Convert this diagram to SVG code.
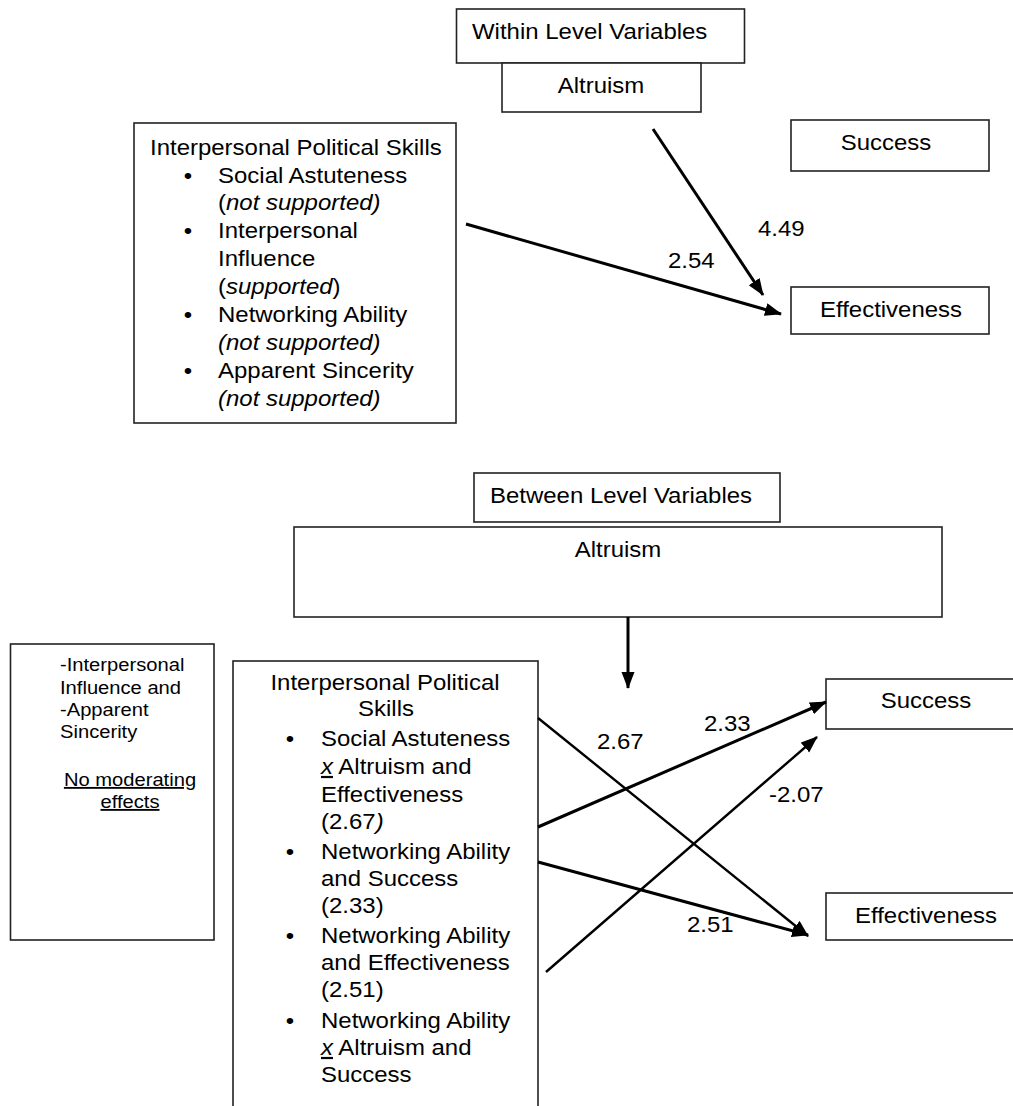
<svg xmlns="http://www.w3.org/2000/svg" width="1013" height="1106" viewBox="0 0 1013 1106">
<defs>
<style>
.bx{fill:#fff;stroke:#222;stroke-width:1.6}
.t{font-family:"Liberation Sans",Arial,sans-serif;font-size:22px;fill:#000}
.s{font-size:18.5px}
.m{text-anchor:middle}
.i{font-style:italic}
.u{text-decoration:underline}
.c{fill:none;stroke:#000;stroke-width:3;marker-end:url(#ah)}
.c2{fill:none;stroke:#000;stroke-width:2.4;marker-end:url(#ah)}
</style>
<marker id="ah" markerUnits="userSpaceOnUse" markerWidth="19" markerHeight="14" refX="16" refY="6.5" orient="auto">
<path d="M0,0 L17,6.5 L0,13 z" fill="#000"/>
</marker>
</defs>
<rect width="1013" height="1106" fill="#fff"/>

<g id="within-title">
<rect class="bx" x="456.5" y="9" width="288" height="54"/>
<text class="t" transform="matrix(1.09 0 0 1 472 39)">Within Level Variables</text>
</g>
<g id="altruism-top">
<rect class="bx" x="502" y="63" width="199" height="49"/>
<text class="t m" transform="matrix(1.09 0 0 1 601 93)">Altruism</text>
</g>
<g id="success-top">
<rect class="bx" x="791" y="120" width="198" height="51"/>
<text class="t m" transform="matrix(1.09 0 0 1 886 150)">Success</text>
</g>
<g id="effectiveness-top">
<rect class="bx" x="791" y="287" width="198" height="47"/>
<text class="t m" transform="matrix(1.09 0 0 1 891 317)">Effectiveness</text>
</g>
<g id="skills-top">
<rect class="bx" x="134" y="123" width="322" height="300"/>
<text class="t" transform="matrix(1.09 0 0 1 150 155)">Interpersonal Political Skills</text>
<text class="t m" transform="matrix(1.09 0 0 1 188 183)">•</text>
<text class="t" transform="matrix(1.09 0 0 1 218 183)">Social Astuteness</text>
<text class="t" transform="matrix(1.09 0 0 1 218 210)">(<tspan class="i">not supported)</tspan></text>
<text class="t m" transform="matrix(1.09 0 0 1 188 238)">•</text>
<text class="t" transform="matrix(1.09 0 0 1 218 238)">Interpersonal</text>
<text class="t" transform="matrix(1.09 0 0 1 218 266)">Influence</text>
<text class="t" transform="matrix(1.09 0 0 1 218 294)">(<tspan class="i">supported</tspan>)</text>
<text class="t m" transform="matrix(1.09 0 0 1 188 322)">•</text>
<text class="t" transform="matrix(1.09 0 0 1 218 322)">Networking Ability</text>
<text class="t i" transform="matrix(1.09 0 0 1 218 350)">(not supported)</text>
<text class="t m" transform="matrix(1.09 0 0 1 188 378)">•</text>
<text class="t" transform="matrix(1.09 0 0 1 218 378)">Apparent Sincerity</text>
<text class="t i" transform="matrix(1.09 0 0 1 218 406)">(not supported)</text>
</g>

<g id="between-title">
<rect class="bx" x="474" y="473" width="306" height="49"/>
<text class="t" transform="matrix(1.09 0 0 1 490 503)">Between Level Variables</text>
</g>
<g id="altruism-bottom">
<rect class="bx" x="294" y="527" width="648" height="90"/>
<text class="t m" transform="matrix(1.09 0 0 1 618 557)">Altruism</text>
</g>
<g id="no-moderation">
<rect class="bx" x="10.5" y="644" width="203.5" height="296"/>
<text class="t s" transform="matrix(1.09 0 0 1 60 671)">-Interpersonal</text>
<text class="t s" transform="matrix(1.09 0 0 1 60 694)">Influence and</text>
<text class="t s" transform="matrix(1.09 0 0 1 60 716)">-Apparent</text>
<text class="t s" transform="matrix(1.09 0 0 1 60 738)">Sincerity</text>
<text class="t s m u" transform="matrix(1.09 0 0 1 130 786)">No moderating</text>
<text class="t s m u" transform="matrix(1.09 0 0 1 130 808)">effects</text>
</g>
<g id="skills-bottom">
<rect class="bx" x="233" y="661" width="305" height="460"/>
<text class="t m" transform="matrix(1.09 0 0 1 385 690)">Interpersonal Political</text>
<text class="t m" transform="matrix(1.09 0 0 1 386 716)">Skills</text>
<text class="t m" transform="matrix(1.09 0 0 1 290 746)">•</text>
<text class="t" transform="matrix(1.09 0 0 1 321 746)">Social Astuteness</text>
<text class="t" transform="matrix(1.09 0 0 1 321 774)"><tspan class="i u">x</tspan> Altruism and</text>
<text class="t" transform="matrix(1.09 0 0 1 321 802)">Effectiveness</text>
<text class="t" transform="matrix(1.09 0 0 1 321 829)">(2.67<tspan class="i">)</tspan></text>
<text class="t m" transform="matrix(1.09 0 0 1 290 859)">•</text>
<text class="t" transform="matrix(1.09 0 0 1 321 859)">Networking Ability</text>
<text class="t" transform="matrix(1.09 0 0 1 321 886)">and Success</text>
<text class="t" transform="matrix(1.09 0 0 1 321 913)">(2.33)</text>
<text class="t m" transform="matrix(1.09 0 0 1 290 943)">•</text>
<text class="t" transform="matrix(1.09 0 0 1 321 943)">Networking Ability</text>
<text class="t" transform="matrix(1.09 0 0 1 321 970)">and Effectiveness</text>
<text class="t" transform="matrix(1.09 0 0 1 321 997)">(2.51)</text>
<text class="t m" transform="matrix(1.09 0 0 1 290 1028)">•</text>
<text class="t" transform="matrix(1.09 0 0 1 321 1028)">Networking Ability</text>
<text class="t" transform="matrix(1.09 0 0 1 321 1055)"><tspan class="i u">x</tspan> Altruism and</text>
<text class="t" transform="matrix(1.09 0 0 1 321 1082)">Success</text>
</g>
<g id="success-bottom">
<rect class="bx" x="826" y="679" width="200" height="50"/>
<text class="t m" transform="matrix(1.09 0 0 1 926 708)">Success</text>
</g>
<g id="effectiveness-bottom">
<rect class="bx" x="826" y="893" width="200" height="47"/>
<text class="t m" transform="matrix(1.09 0 0 1 926 923)">Effectiveness</text>
</g>

<g id="connectors">
<line class="c" x1="653" y1="129" x2="763" y2="295"/>
<line class="c" x1="466" y1="224" x2="781" y2="314"/>
<line class="c" x1="628" y1="617" x2="628" y2="688"/>
<line class="c2" x1="538" y1="718" x2="808" y2="936"/>
<line class="c" x1="538" y1="827" x2="826" y2="702"/>
<line class="c2" x1="546" y1="972" x2="817" y2="737"/>
<line class="c" x1="538" y1="862" x2="808" y2="935"/>
</g>
<g id="labels">
<text class="t" transform="matrix(1.09 0 0 1 758 236)">4.49</text>
<text class="t" transform="matrix(1.09 0 0 1 668 268)">2.54</text>
<text class="t" transform="matrix(1.09 0 0 1 597 749)">2.67</text>
<text class="t" transform="matrix(1.09 0 0 1 704 731)">2.33</text>
<text class="t" transform="matrix(1.09 0 0 1 769 802)">-2.07</text>
<text class="t" transform="matrix(1.09 0 0 1 687 932)">2.51</text>
</g>
</svg>
